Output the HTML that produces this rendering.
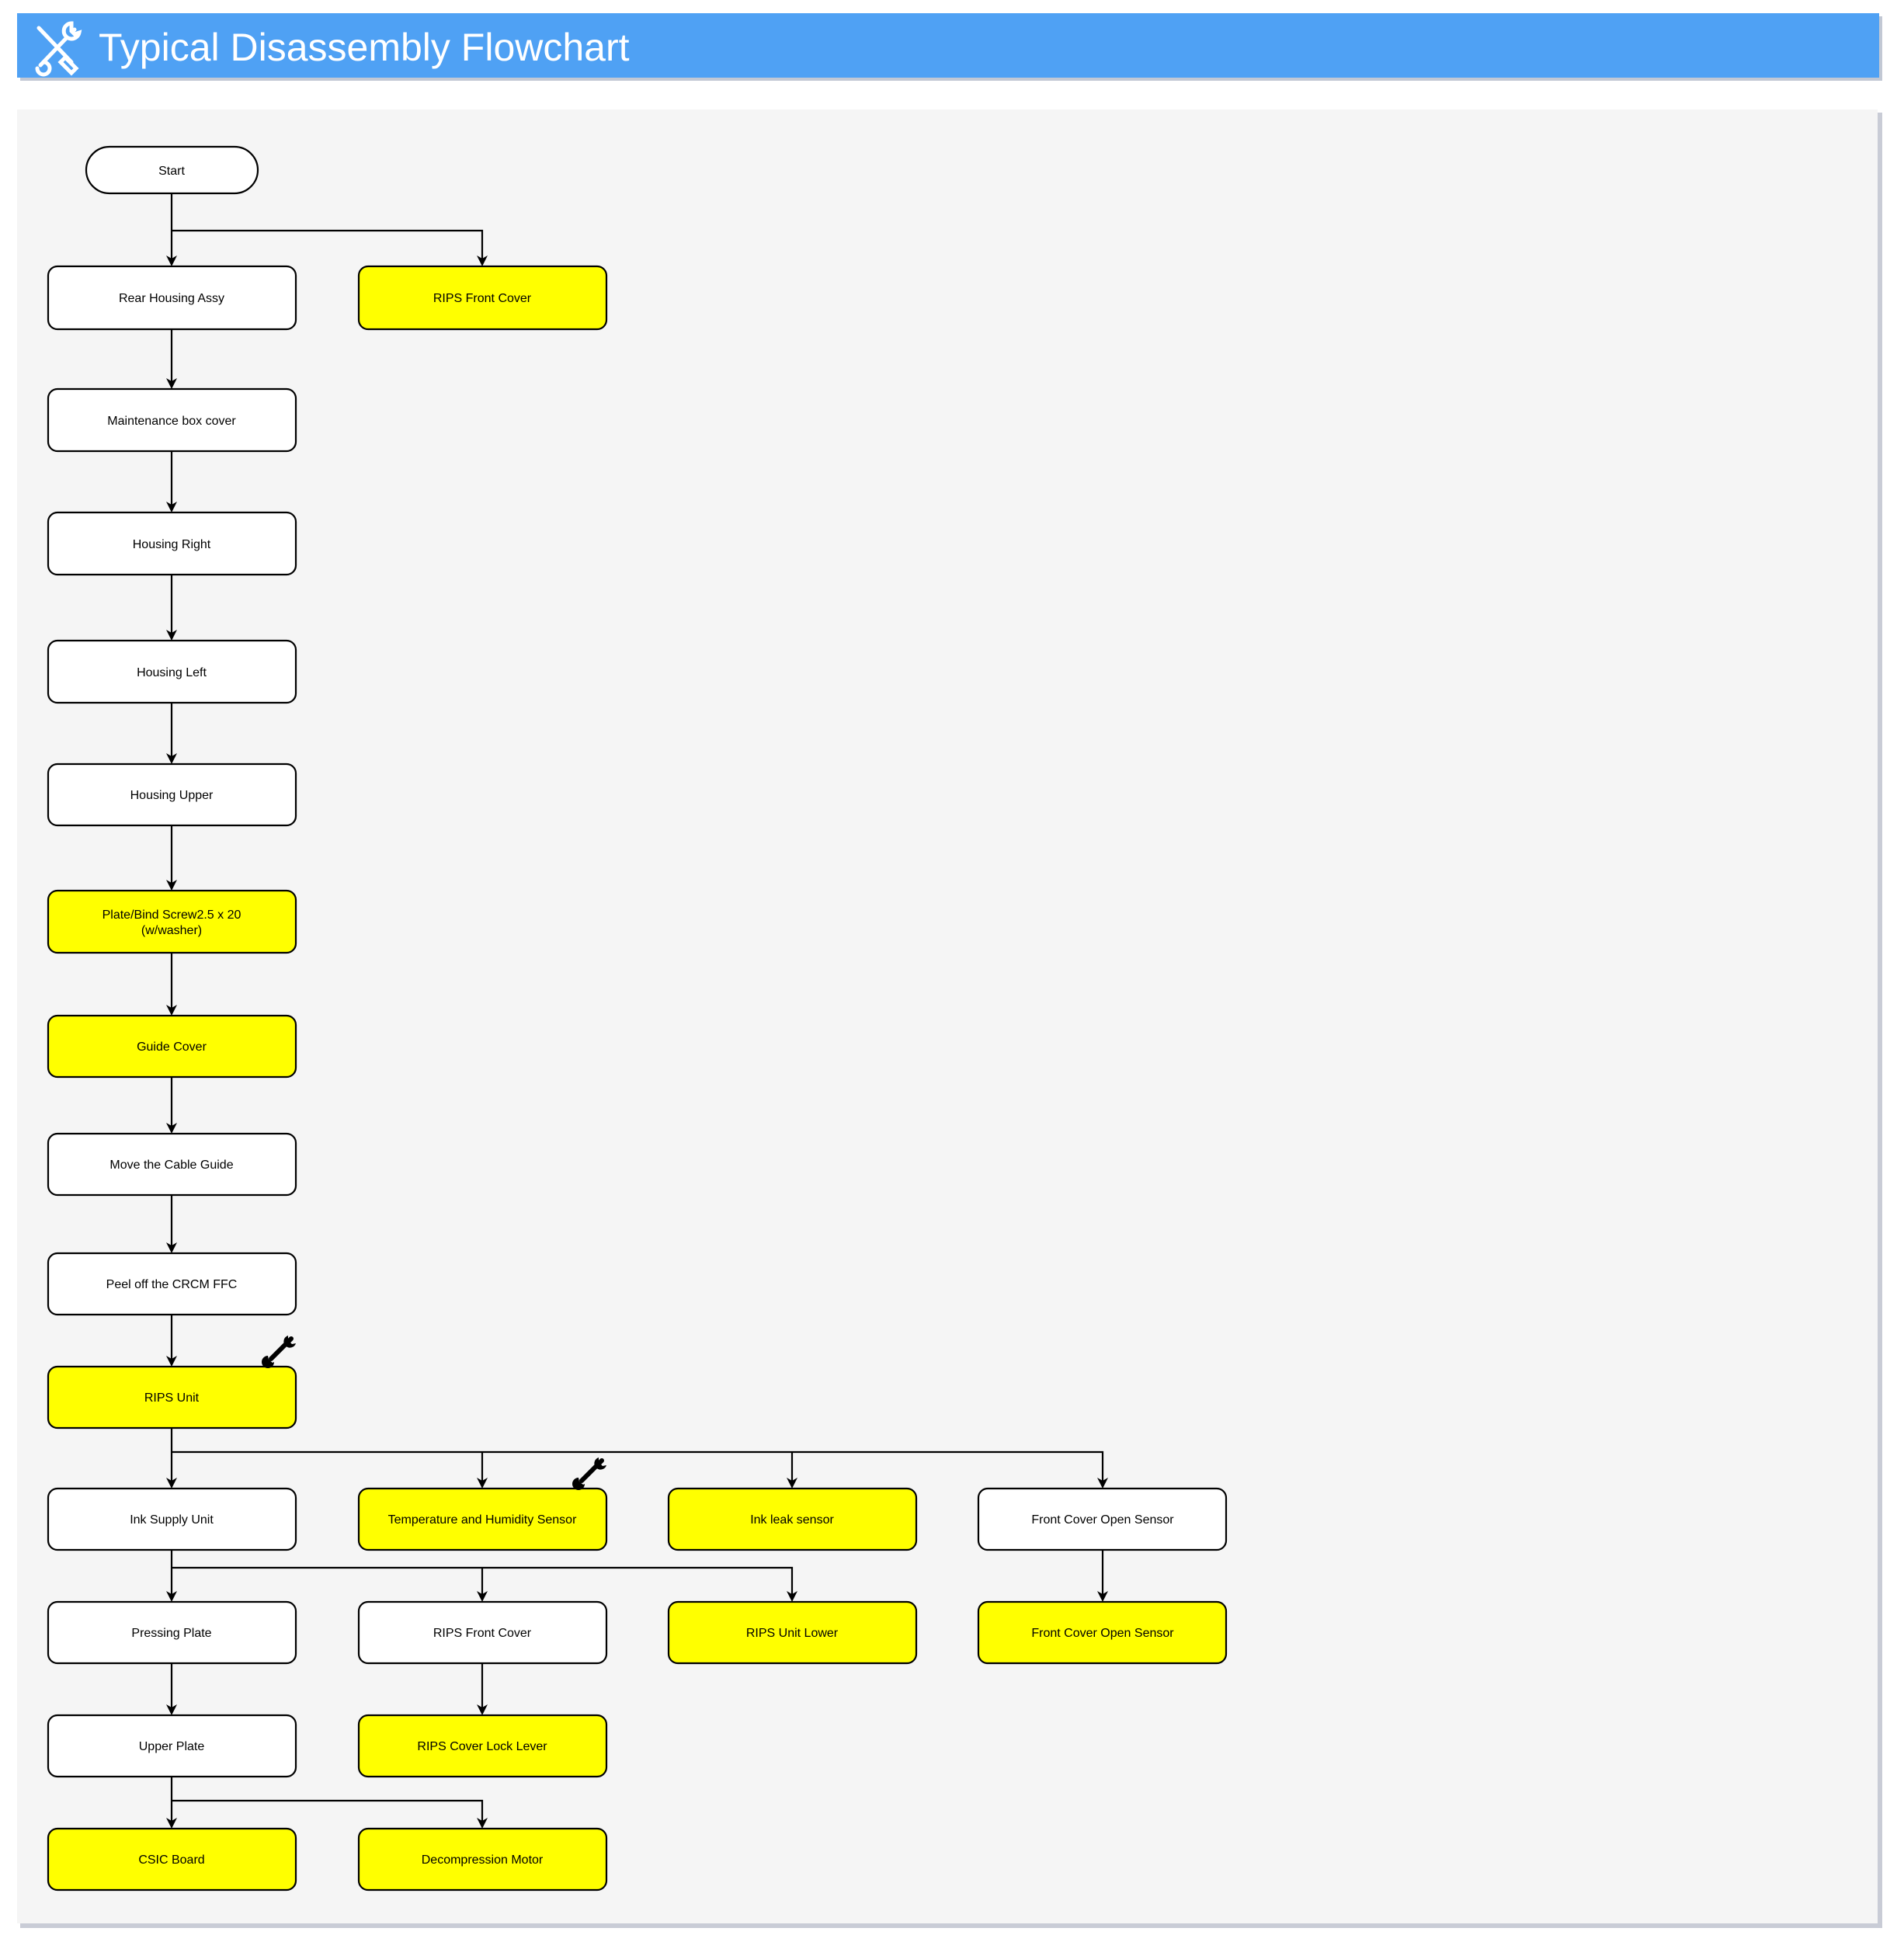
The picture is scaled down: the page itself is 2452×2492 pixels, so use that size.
<!DOCTYPE html>
<html><head><meta charset="utf-8"><style>
html,body{margin:0;padding:0;background:#fff;}
body{width:2452px;height:2492px;position:relative;overflow:hidden;font-family:"Liberation Sans",Arial,sans-serif;}
</style></head><body>
<svg width="2452" height="2492" viewBox="0 0 2452 2492" xmlns="http://www.w3.org/2000/svg" style="position:absolute;left:0;top:0">
<defs>
<g id="wr">
<path d="M6,32 L32,6" stroke="#000" stroke-width="6" stroke-linecap="round"/>
<path d="M28,2 a8,8 0 1 0 10,10 l-5,1 -5,-5 z" fill="#000"/>
<path d="M10,36 a8,8 0 1 1 -8,-8 l1,5 5,4 z" fill="#000"/>
</g>
</defs>
<!-- header -->
<rect x="26" y="21" width="2398" height="83" fill="#9aa3b8" opacity="0.6"/>
<rect x="22" y="17" width="2398" height="83" fill="#4fa1f4"/>
<g stroke="#fff" fill="none" stroke-width="5" stroke-linecap="round">
<path d="M50,36 L92,80"/><path d="M84,74 L98,88 L92,94 L78,80 Z" fill="#4fa1f4"/>
<path d="M96,38 L52,84"/><path d="M92,30 a10,10 0 1 0 10,12 l-6,2 -4,-4 z" fill="#4fa1f4"/><path d="M56,80 a8,8 0 1 1 -8,8" />
</g>
<text x="127" y="78" font-size="50" fill="#fff" font-family="Liberation Sans, sans-serif">Typical Disassembly Flowchart</text>
<!-- panel -->
<rect x="26" y="145" width="2398" height="2338" fill="#c9ccd6"/>
<rect x="22" y="141" width="2396" height="2336" fill="#f5f5f5"/>
<!-- connectors -->
<g stroke="#000" stroke-width="2.2" fill="none">
<path d="M221,249 V333"/><path d="M221,297 H621 V333"/>
<path d="M221,424 V491"/><path d="M221,581 V650"/><path d="M221,740 V815"/>
<path d="M221,905 V974"/><path d="M221,1063 V1137"/><path d="M221,1227 V1298"/>
<path d="M221,1387 V1450"/><path d="M221,1539 V1604"/><path d="M221,1693 V1750"/>
<path d="M221,1839 V1907"/><path d="M221,1870 H1420 V1907"/><path d="M621,1870 V1907"/><path d="M1020,1870 V1907"/>
<path d="M221,1996 V2053"/><path d="M221,2019 H1020 V2053"/><path d="M621,2019 V2053"/>
<path d="M1420,1996 V2053"/>
<path d="M221,2142 V2199"/><path d="M621,2142 V2199"/>
<path d="M221,2288 V2345"/><path d="M221,2319 H621 V2345"/>
</g>
<g fill="#000">
<path d="M214,329 L221,343 L228,329 L221,333 Z"/><path d="M614,329 L621,343 L628,329 L621,333 Z"/>
<path d="M214,487 L221,501 L228,487 L221,491 Z"/>
<path d="M214,646 L221,660 L228,646 L221,650 Z"/>
<path d="M214,811 L221,825 L228,811 L221,815 Z"/>
<path d="M214,970 L221,984 L228,970 L221,974 Z"/>
<path d="M214,1133 L221,1147 L228,1133 L221,1137 Z"/>
<path d="M214,1294 L221,1308 L228,1294 L221,1298 Z"/>
<path d="M214,1446 L221,1460 L228,1446 L221,1450 Z"/>
<path d="M214,1600 L221,1614 L228,1600 L221,1604 Z"/>
<path d="M214,1746 L221,1760 L228,1746 L221,1750 Z"/>
<path d="M214,1903 L221,1917 L228,1903 L221,1907 Z"/><path d="M614,1903 L621,1917 L628,1903 L621,1907 Z"/><path d="M1013,1903 L1020,1917 L1027,1903 L1020,1907 Z"/><path d="M1413,1903 L1420,1917 L1427,1903 L1420,1907 Z"/>
<path d="M214,2049 L221,2063 L228,2049 L221,2053 Z"/><path d="M614,2049 L621,2063 L628,2049 L621,2053 Z"/><path d="M1013,2049 L1020,2063 L1027,2049 L1020,2053 Z"/><path d="M1413,2049 L1420,2063 L1427,2049 L1420,2053 Z"/>
<path d="M214,2195 L221,2209 L228,2195 L221,2199 Z"/><path d="M614,2195 L621,2209 L628,2195 L621,2199 Z"/>
<path d="M214,2341 L221,2355 L228,2341 L221,2345 Z"/><path d="M614,2341 L621,2355 L628,2341 L621,2345 Z"/>
</g>
<!-- nodes -->
<g stroke="#000" stroke-width="2.2">
<rect x="111" y="189" width="221" height="60" rx="30" fill="#fff"/>
<rect x="62" y="343" width="319" height="81" rx="12" fill="#fff"/>
<rect x="462" y="343" width="319" height="81" rx="12" fill="#ffff00"/>
<rect x="62" y="501" width="319" height="80" rx="12" fill="#fff"/>
<rect x="62" y="660" width="319" height="80" rx="12" fill="#fff"/>
<rect x="62" y="825" width="319" height="80" rx="12" fill="#fff"/>
<rect x="62" y="984" width="319" height="79" rx="12" fill="#fff"/>
<rect x="62" y="1147" width="319" height="80" rx="12" fill="#ffff00"/>
<rect x="62" y="1308" width="319" height="79" rx="12" fill="#ffff00"/>
<rect x="62" y="1460" width="319" height="79" rx="12" fill="#fff"/>
<rect x="62" y="1614" width="319" height="79" rx="12" fill="#fff"/>
<rect x="62" y="1760" width="319" height="79" rx="12" fill="#ffff00"/>
<rect x="62" y="1917" width="319" height="79" rx="12" fill="#fff"/>
<rect x="462" y="1917" width="319" height="79" rx="12" fill="#ffff00"/>
<rect x="861" y="1917" width="319" height="79" rx="12" fill="#ffff00"/>
<rect x="1260" y="1917" width="319" height="79" rx="12" fill="#fff"/>
<rect x="62" y="2063" width="319" height="79" rx="12" fill="#fff"/>
<rect x="462" y="2063" width="319" height="79" rx="12" fill="#fff"/>
<rect x="861" y="2063" width="319" height="79" rx="12" fill="#ffff00"/>
<rect x="1260" y="2063" width="319" height="79" rx="12" fill="#ffff00"/>
<rect x="62" y="2209" width="319" height="79" rx="12" fill="#fff"/>
<rect x="462" y="2209" width="319" height="79" rx="12" fill="#ffff00"/>
<rect x="62" y="2355" width="319" height="79" rx="12" fill="#ffff00"/>
<rect x="462" y="2355" width="319" height="79" rx="12" fill="#ffff00"/>
</g>
<g font-size="16" text-anchor="middle" fill="#000" font-family="Liberation Sans, sans-serif">
<text x="221" y="225">Start</text>
<text x="221" y="389">Rear Housing Assy</text>
<text x="621" y="389">RIPS Front Cover</text>
<text x="221" y="547">Maintenance box cover</text>
<text x="221" y="706">Housing Right</text>
<text x="221" y="871">Housing Left</text>
<text x="221" y="1029">Housing Upper</text>
<text x="221" y="1183">Plate/Bind Screw2.5 x 20</text>
<text x="221" y="1203">(w/washer)</text>
<text x="221" y="1353">Guide Cover</text>
<text x="221" y="1505">Move the Cable Guide</text>
<text x="221" y="1659">Peel off the CRCM FFC</text>
<text x="221" y="1805">RIPS Unit</text>
<text x="221" y="1962">Ink Supply Unit</text>
<text x="621" y="1962">Temperature and Humidity Sensor</text>
<text x="1020" y="1962">Ink leak sensor</text>
<text x="1420" y="1962">Front Cover Open Sensor</text>
<text x="221" y="2108">Pressing Plate</text>
<text x="621" y="2108">RIPS Front Cover</text>
<text x="1020" y="2108">RIPS Unit Lower</text>
<text x="1420" y="2108">Front Cover Open Sensor</text>
<text x="221" y="2254">Upper Plate</text>
<text x="621" y="2254">RIPS Cover Lock Lever</text>
<text x="221" y="2400">CSIC Board</text>
<text x="621" y="2400">Decompression Motor</text>
</g>
<use href="#wr" x="343" y="1718"/>
<use href="#wr" x="743" y="1875"/>
</svg>
</body></html>
